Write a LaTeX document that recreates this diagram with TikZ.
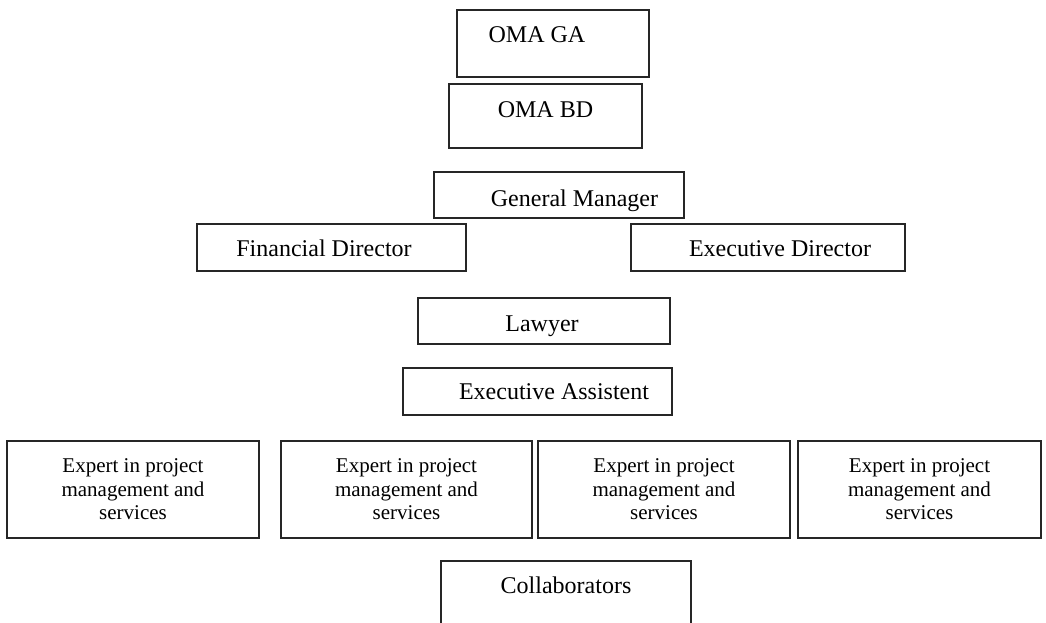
\documentclass[tikz,border=0pt]{standalone}
\usepackage{fontspec}
\setmainfont{Liberation Serif}
\begin{document}
\begin{tikzpicture}[x=0.75pt,y=-0.75pt,
  box/.style={draw=black!85, line width=1.1pt, rectangle, inner sep=0pt},
  lbl/.style={anchor=base, inner sep=0pt, font=\fontsize{18}{21}\selectfont},
  expert/.style={box, minimum height=72.75pt, align=center,
    font=\fontsize{15.75}{17.6}\selectfont}]
\clip (0,0) rectangle (1046,623);
\fill[white] (0,0) rectangle (1046,623);
% boxes
\node[box, minimum width=144pt,    minimum height=50.25pt] (ga) at (553,43.5) {};
\node[box, minimum width=144.75pt, minimum height=48pt]    (bd) at (545.5,116) {};
\node[box, minimum width=187.5pt,  minimum height=34.5pt]  (gm) at (559,195) {};
\node[box, minimum width=201.75pt, minimum height=35.25pt] (fd) at (331.5,247.5) {};
\node[box, minimum width=205.5pt,  minimum height=35.25pt] (ed) at (768,247.5) {};
\node[box, minimum width=189pt,    minimum height=34.5pt]  (lw) at (544,321) {};
\node[box, minimum width=201.75pt, minimum height=35.25pt] (ea) at (537.5,391.5) {};
\node[box, minimum width=187.5pt,  minimum height=59.25pt] (co) at (566,600.5) {};
% labels
\node[lbl] (gat) at (537,43)  {OMA GA};
\node[lbl] (bdt) at (545.5,118) {OMA BD};
\node[lbl] (gmt) at (574.5,207) {General Manager};
\node[lbl] (fdt) at (324,257) {Financial Director};
\node[lbl] (edt) at (780,257) {Executive Director};
\node[lbl] (lwt) at (542,332) {Lawyer};
\node[lbl] (eat) at (554,400) {Executive Assistent};
\node[lbl] (cot) at (566,593) {Collaborators};
% experts
\node[expert, minimum width=189pt]    (e1) at (133,489.5)   {Expert in project\\management and\\services};
\node[expert, minimum width=188.25pt] (e2) at (406.5,489.5) {Expert in project\\management and\\services};
\node[expert, minimum width=189pt]    (e3) at (664,489.5)   {Expert in project\\management and\\services};
\node[expert, minimum width=182.25pt] (e4) at (919.5,489.5) {Expert in project\\management and\\services};
\end{tikzpicture}
\end{document}
